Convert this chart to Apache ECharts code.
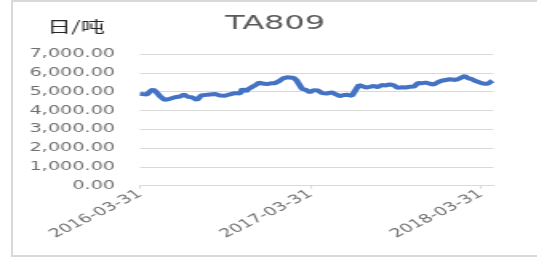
<!DOCTYPE html>
<html>
<head>
<meta charset="utf-8">
<script src="https://cdn.jsdelivr.net/npm/echarts@6/dist/echarts.min.js"></script>
<style>
  html, body { margin: 0; padding: 0; background: #fff; }
  #frame { position: absolute; left: 11px; top: 0; width: 530px; height: 253px; border: 2px solid #d9d9d9; box-sizing: content-box; }
  #chart { position: absolute; left: 0; top: 0; width: 335.6px; height: 257px; transform: scaleX(1.6); transform-origin: 0 0; }
</style>
</head>
<body>
<div id="frame"></div>
<div id="chart"></div>
<script>
// 日期（周度附近采样）
var dates = [
  "2016-03-31", "2016-04-06", "2016-04-15", "2016-04-21", "2016-04-28", "2016-05-04",
  "2016-05-13", "2016-05-23", "2016-06-03", "2016-06-14", "2016-06-25", "2016-07-03",
  "2016-07-12", "2016-07-20", "2016-07-31", "2016-08-09", "2016-08-15", "2016-08-28",
  "2016-09-08", "2016-09-18", "2016-09-29", "2016-10-10", "2016-10-20", "2016-10-31",
  "2016-11-06", "2016-11-13", "2016-11-17", "2016-11-26", "2016-12-04", "2016-12-11",
  "2016-12-19", "2016-12-28", "2017-01-05", "2017-01-14", "2017-01-23", "2017-01-31",
  "2017-02-09", "2017-02-15", "2017-02-24", "2017-03-02", "2017-03-08", "2017-03-13",
  "2017-03-21", "2017-03-30", "2017-04-07", "2017-04-16", "2017-04-25", "2017-05-05",
  "2017-05-16", "2017-05-25", "2017-06-02", "2017-06-11", "2017-06-19", "2017-06-28",
  "2017-07-04", "2017-07-09", "2017-07-13", "2017-07-19", "2017-07-28", "2017-08-05",
  "2017-08-14", "2017-08-22", "2017-08-31", "2017-09-09", "2017-09-17", "2017-09-26",
  "2017-10-04", "2017-10-13", "2017-10-21", "2017-10-30", "2017-11-08", "2017-11-16",
  "2017-11-25", "2017-12-03", "2017-12-12", "2017-12-20", "2017-12-29", "2018-01-06",
  "2018-01-15", "2018-01-24", "2018-02-01", "2018-02-10", "2018-02-18", "2018-02-25",
  "2018-03-03", "2018-03-12", "2018-03-20", "2018-03-29", "2018-04-07", "2018-04-15",
  "2018-04-22", "2018-04-25"
];
// 价格 元/吨
var prices = [
  4880, 4800, 4850, 5000, 5120, 5000,
  4750, 4560, 4620, 4700, 4740, 4850,
  4720, 4700, 4560, 4800, 4900, 4850,
  4870, 4790, 4780, 4860, 4920, 4900,
  5150, 5000, 5120, 5250, 5350, 5480,
  5430, 5400, 5440, 5450, 5560, 5700,
  5760, 5840, 5720, 5580, 5550, 5150,
  5100, 4960, 5080, 5060, 4920, 4900,
  4960, 4850, 4760, 4820, 4830, 4780,
  4850, 5200, 5350, 5330, 5220, 5250,
  5300, 5240, 5350, 5330, 5380, 5330,
  5200, 5230, 5220, 5260, 5270, 5460,
  5450, 5480, 5420, 5380, 5500, 5580,
  5620, 5660, 5620, 5660, 5760, 5830,
  5720, 5660, 5560, 5480, 5420, 5420,
  5540, 5580
];
var tickDates = ["2016-03-31", "2017-03-31", "2018-03-31"];
var yTicks = [0, 1000, 2000, 3000, 4000, 5000, 6000, 7000];

var startDay = Date.UTC(2016, 2, 31);
function toDay(s) {
  var p = s.split("-");
  return Math.round((Date.UTC(+p[0], +p[1] - 1, +p[2]) - startDay) / 86400000);
}
function toDate(d) {
  var t = new Date(startDay + d * 86400000);
  var m = ("0" + (t.getUTCMonth() + 1)).slice(-2);
  var dd = ("0" + t.getUTCDate()).slice(-2);
  return t.getUTCFullYear() + "-" + m + "-" + dd;
}

var seriesData = dates.map(function (d, i) { return [toDay(d), prices[i]]; });
var tickDays = tickDates.map(toDay);

var chart = echarts.init(document.getElementById("chart"));
chart.setOption({
  animation: false,
  graphic: [
    {
      type: "text", x: 172, y: 24,
      style: { text: "TA809", fontSize: 20, fontFamily: "DejaVu Sans", fill: "#595959", textAlign: "center", textVerticalAlign: "middle" }
    },
    {
      type: "text", x: 47.5, y: 26,
      style: { text: "日/吨", fontSize: 15, fontFamily: "Noto Sans CJK SC", fill: "#262626", textAlign: "center", textVerticalAlign: "middle" }
    }
  ],
  grid: { left: 87.5, right: 27.6, top: 54, bottom: 71.3 },
  xAxis: {
    type: "value",
    min: 0,
    max: 757,
    splitLine: { show: false },
    axisLine: { show: true, lineStyle: { color: "#d9d9d9", width: 1 } },
    axisTick: { show: true, customValues: tickDays, length: 3, lineStyle: { color: "#d9d9d9" } },
    axisLabel: {
      customValues: tickDays,
      rotate: 38,
      margin: 7,
      fontSize: 12,
      fontFamily: "DejaVu Sans",
      color: "#6f6f6f",
      formatter: function (v) { return toDate(v); }
    }
  },
  yAxis: {
    type: "value",
    min: yTicks[0],
    max: yTicks[yTicks.length - 1],
    interval: 1000,
    axisLine: { show: false },
    axisTick: { show: false },
    splitLine: { lineStyle: { color: "#d9d9d9", width: 1 } },
    axisLabel: {
      margin: 15.6,
      fontSize: 12,
      fontFamily: "DejaVu Sans",
      color: "#6f6f6f",
      formatter: function (v) {
        return v.toLocaleString("en-US", { minimumFractionDigits: 2, maximumFractionDigits: 2 });
      }
    }
  },
  series: [
    {
      type: "line",
      data: seriesData,
      showSymbol: false,
      lineStyle: { color: "#4472c4", width: 4 },
      itemStyle: { color: "#4472c4" }
    }
  ]
});
</script>
</body>
</html>
